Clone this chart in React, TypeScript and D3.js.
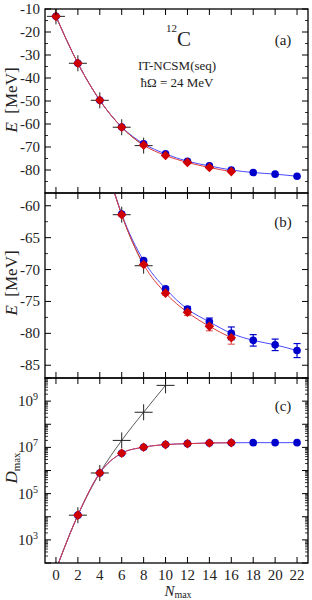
import { useEffect, useRef } from 'react';
import * as d3 from 'd3';

// N_max values
const nmax = [0, 2, 4, 6, 8, 10, 12, 14, 16, 18, 20, 22];

// energies [MeV]
const eBlue = [-13.2, -33.6, -49.7, -61.3, -68.6, -73.0, -76.2, -78.2, -80.0, -81.1, -81.8, -82.7];
const errBlue = [0, 0, 0, 0, 0.2, 0.25, 0.4, 0.6, 1.0, 0.9, 0.9, 1.1];
const eRed = [-13.2, -33.6, -49.7, -61.4, -69.2, -73.7, -76.7, -78.9, -80.7];
const errRed = [0, 0, 0, 0, 0.2, 0.3, 0.5, 0.7, 1.0];
const eBlack = [-13.2, -33.6, -49.7, -61.4, -69.4];

// basis dimensions
const dBlue = [51, 1.17e4, 7.8e5, 5.6e6, 1.02e7, 1.32e7, 1.45e7, 1.55e7, 1.58e7, 1.6e7, 1.6e7, 1.6e7];
const dRed = [51, 1.17e4, 7.8e5, 5.6e6, 1.02e7, 1.32e7, 1.45e7, 1.55e7, 1.58e7];
const dBlack = [51, 1.17e4, 7.8e5, 2.0e7, 3.3e8, 4.8e9];

const xTicks = [0, 2, 4, 6, 8, 10, 12, 14, 16, 18, 20, 22];
const logLabels = [3, 5, 7, 9];

const FONT = '"Liberation Serif", "Times New Roman", serif';
const BLUE = '#0000cc';
const BLUE_LINE = '#4a4aff';
const RED = '#d00000';
const RED_LINE = '#e03a3a';

const App = () => {
  const svgRef = useRef<SVGSVGElement>(null);

  useEffect(() => {
    const W = 312, H = 600;
    const left = 45, right = 308;
    const svg = d3.select(svgRef.current).attr('width', W).attr('height', H);
    svg.selectAll('*').remove();

    const x = d3.scaleLinear().domain([-1, 23]).range([left, right]);

    const panels = [
      { id: 'a', top: 9, bottom: 193, y: d3.scaleLinear().domain([-90, -10]).range([193, 9]) as any },
      { id: 'b', top: 193, bottom: 378, y: d3.scaleLinear().domain([-87, -58]).range([378, 193]) as any },
      { id: 'c', top: 378, bottom: 563, y: d3.scaleLog().domain([1e2, 1e10]).range([563, 378]) as any },
    ];

    const defs = svg.append('defs');
    panels.forEach(p => {
      defs.append('clipPath').attr('id', 'clip-' + p.id)
        .append('rect').attr('x', left).attr('y', p.top)
        .attr('width', right - left).attr('height', p.bottom - p.top);
    });
    // crosses in (c) may poke upward into (b)
    defs.append('clipPath').attr('id', 'clip-cx')
      .append('rect').attr('x', left).attr('y', 360)
      .attr('width', right - left).attr('height', 563 - 360);

    const cross = (g: any, xs: number[], vals: number[], y: any) => {
      vals.forEach((v, i) => {
        const cx = x(xs[i]), cy = y(v);
        g.append('line').attr('x1', cx - 9).attr('x2', cx + 9).attr('y1', cy).attr('y2', cy)
          .attr('stroke', '#222').attr('stroke-width', 1);
        g.append('line').attr('x1', cx).attr('x2', cx).attr('y1', cy - 8).attr('y2', cy + 8)
          .attr('stroke', '#222').attr('stroke-width', 1);
      });
    };

    const drawSeries = (p: any, isLog: boolean) => {
      const y = p.y;
      const g = svg.append('g').attr('clip-path', `url(#clip-${p.id})`);
      const line = (vals: number[]) => d3.line<number>()
        .x((_, i) => x(nmax[i]))
        .y(d => y(d))
        .curve(d3.curveMonotoneX)(vals);

      const bl = isLog ? dBlack : eBlack;
      const bv = isLog ? dBlue : eBlue;
      const rv = isLog ? dRed : eRed;

      g.append('path').attr('d', line(bl)).attr('fill', 'none').attr('stroke', '#333').attr('stroke-width', 0.8);
      g.append('path').attr('d', line(bv)).attr('fill', 'none').attr('stroke', BLUE_LINE).attr('stroke-width', 1);
      g.append('path').attr('d', line(rv)).attr('fill', 'none').attr('stroke', RED_LINE).attr('stroke-width', 1);

      const gc = svg.append('g').attr('clip-path', isLog ? 'url(#clip-cx)' : `url(#clip-${p.id})`);
      cross(gc, nmax, bl, y);

      const gm = svg.append('g').attr('clip-path', `url(#clip-${p.id})`);
      if (p.id === 'b') {
        const bars = (vals: number[], errs: number[], col: string) => {
          vals.forEach((v, i) => {
            if (!errs[i]) return;
            const cx = x(nmax[i]);
            const y1 = y(v - errs[i]), y2 = y(v + errs[i]);
            gm.append('line').attr('x1', cx).attr('x2', cx).attr('y1', y1).attr('y2', y2)
              .attr('stroke', col).attr('stroke-width', 1.2);
            [y1, y2].forEach(yy => gm.append('line').attr('x1', cx - 3.5).attr('x2', cx + 3.5)
              .attr('y1', yy).attr('y2', yy).attr('stroke', col).attr('stroke-width', 1.2));
          });
        };
        bars(bv, errBlue, BLUE);
        bars(rv, errRed, '#e06060');
      }
      bv.forEach((v, i) => {
        gm.append('circle').attr('cx', x(nmax[i])).attr('cy', y(v)).attr('r', 3.8).attr('fill', BLUE);
      });
      rv.forEach((v, i) => {
        const cx = x(nmax[i]), cy = y(v), s = 4.8;
        gm.append('path')
          .attr('d', `M${cx},${cy - s}L${cx + s},${cy}L${cx},${cy + s}L${cx - s},${cy}Z`)
          .attr('fill', RED);
      });
    };

    const drawFrame = (p: any, isLog: boolean, yMajor: number[], yMinor: number[]) => {
      const g = svg.append('g').attr('stroke', '#000');
      const y = p.y;
      xTicks.forEach(t => {
        const xx = x(t);
        g.append('line').attr('x1', xx).attr('x2', xx).attr('y1', p.top).attr('y2', p.top + 6).attr('stroke-width', 1);
        g.append('line').attr('x1', xx).attr('x2', xx).attr('y1', p.bottom).attr('y2', p.bottom - 6).attr('stroke-width', 1);
      });
      yMajor.forEach(t => {
        const yy = y(t);
        g.append('line').attr('x1', left).attr('x2', left + 6).attr('y1', yy).attr('y2', yy).attr('stroke-width', 1);
        g.append('line').attr('x1', right).attr('x2', right - 6).attr('y1', yy).attr('y2', yy).attr('stroke-width', 1);
      });
      yMinor.forEach(t => {
        const yy = y(t);
        if (yy < p.top || yy > p.bottom) return;
        g.append('line').attr('x1', left).attr('x2', left + 3).attr('y1', yy).attr('y2', yy).attr('stroke-width', 0.8);
        g.append('line').attr('x1', right).attr('x2', right - 3).attr('y1', yy).attr('y2', yy).attr('stroke-width', 0.8);
      });
      g.append('rect').attr('x', left).attr('y', p.top).attr('width', right - left).attr('height', p.bottom - p.top)
        .attr('fill', 'none').attr('stroke-width', 1.3);

      const lab = svg.append('g').attr('font-family', FONT).attr('font-size', 15).attr('fill', '#222');
      if (!isLog) {
        yMajor.forEach(t => {
          lab.append('text').attr('x', 40).attr('y', y(t) + 5).attr('text-anchor', 'end').text(String(t));
        });
      } else {
        logLabels.forEach(e => {
          const yy = y(Math.pow(10, e));
          lab.append('text').attr('x', 33).attr('y', yy + 5).attr('text-anchor', 'end').text('10');
          lab.append('text').attr('x', 33).attr('y', yy - 1).attr('font-size', 10).text(String(e));
        });
      }
    };

    // panel (a)
    drawSeries(panels[0], false);
    drawFrame(panels[0], false, d3.range(-80, -9, 10), d3.range(-85, -10, 10));
    // panel (b)
    drawSeries(panels[1], false);
    drawFrame(panels[1], false, d3.range(-85, -59, 5), d3.range(-87.5, -57, 5));
    // panel (c)
    const logMajor = d3.range(2, 11).map(e => Math.pow(10, e));
    const logMinor: number[] = [];
    d3.range(2, 10).forEach(e => { for (let k = 2; k <= 9; k++) logMinor.push(k * Math.pow(10, e)); });
    drawSeries(panels[2], true);
    drawFrame(panels[2], true, logMajor, logMinor);

    const txt = svg.append('g').attr('font-family', FONT).attr('fill', '#222');

    // x tick labels
    xTicks.forEach(t => {
      txt.append('text').attr('x', x(t)).attr('y', 580).attr('text-anchor', 'middle')
        .attr('font-size', 15).text(String(t));
    });
    // x axis title
    const xt = txt.append('text').attr('x', 178).attr('y', 596).attr('text-anchor', 'middle').attr('font-size', 15);
    xt.append('tspan').attr('font-style', 'italic').text('N');
    xt.append('tspan').attr('font-size', 10).attr('dy', 2).text('max');

    // y axis titles
    [100, 283].forEach(cy => {
      const t = txt.append('text').attr('transform', `translate(17,${cy}) rotate(-90)`)
        .attr('text-anchor', 'middle').attr('font-size', 17);
      t.append('tspan').attr('font-style', 'italic').text('E');
      t.append('tspan').text('\u00a0 [MeV]');
    });
    const dt = txt.append('text').attr('transform', `translate(17,468) rotate(-90)`)
      .attr('text-anchor', 'middle').attr('font-size', 17);
    dt.append('tspan').attr('font-style', 'italic').text('D');
    dt.append('tspan').attr('font-size', 11).attr('dy', 3).text('max');

    // panel labels
    txt.append('text').attr('x', 283).attr('y', 45).attr('text-anchor', 'middle').attr('font-size', 15).text('(a)');
    txt.append('text').attr('x', 283).attr('y', 227).attr('text-anchor', 'middle').attr('font-size', 15).text('(b)');
    txt.append('text').attr('x', 283).attr('y', 411).attr('text-anchor', 'middle').attr('font-size', 15).text('(c)');

    // annotation
    txt.append('text').attr('x', 177).attr('y', 32).attr('font-size', 11).attr('text-anchor', 'end').text('12');
    txt.append('text').attr('x', 177).attr('y', 46).attr('font-size', 21).text('C');
    txt.append('text').attr('x', 177).attr('y', 70).attr('font-size', 13).attr('text-anchor', 'middle').text('IT-NCSM(seq)');
    txt.append('text').attr('x', 177).attr('y', 87).attr('font-size', 13).attr('text-anchor', 'middle').text('ħΩ = 24 MeV');
  }, []);

  return (
    <div>
      <svg ref={svgRef} style={{ position: 'absolute', left: 0, top: 0 }}></svg>
    </div>
  );
};

export default App;
